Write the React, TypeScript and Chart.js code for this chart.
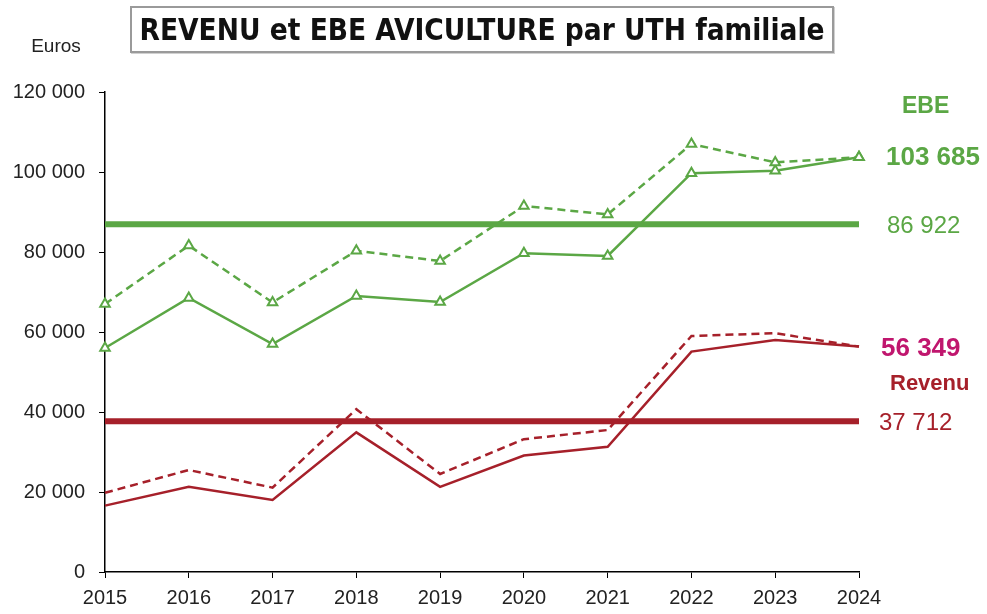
import React, { useEffect, useRef } from "react";
import { Chart, registerables } from "chart.js";

Chart.register(...registerables);

const years = ["2015", "2016", "2017", "2018", "2019", "2020", "2021", "2022", "2023", "2024"];
const ebe = [56000, 68500, 57000, 69000, 67500, 79700, 79000, 99700, 100300, 103685];
const ebeDashed = [67000, 81600, 67400, 80300, 77750, 91500, 89400, 107000, 102400, 103685];
const revenu = [16600, 21300, 18000, 34900, 21300, 29100, 31300, 55100, 58000, 56349];
const revenuDashed = [19800, 25500, 21100, 40700, 24500, 33200, 35500, 59000, 59700, 56349];
const ebeAverage = [86922, 86922, 86922, 86922, 86922, 86922, 86922, 86922, 86922, 86922];
const revenuAverage = [37712, 37712, 37712, 37712, 37712, 37712, 37712, 37712, 37712, 37712];
const yMin = 0;
const yMax = 120000;
const yStep = 20000;

const GREEN = "#5ba745";
const RED = "#a6202a";
const MAGENTA = "#c0166e";
const FONT = "'Liberation Sans', Arial, sans-serif";

const fmt = (v: number) => String(Math.round(v)).replace(/\B(?=(\d{3})+(?!\d))/g, " ");

const labelsPlugin = {
  id: "sideLabels",
  afterDraw(chart: any) {
    const ctx = chart.ctx;
    const y = chart.scales.y;
    const area = chart.chartArea;
    const xr = area.right;
    ctx.save();
    ctx.textBaseline = "middle";
    ctx.textAlign = "left";
    const put = (text: string, x: number, py: number, font: string, color: string) => {
      ctx.font = font;
      ctx.fillStyle = color;
      ctx.fillText(text, x, py);
    };
    put("EBE", xr + 43, area.top + 15, `bold 23px ${FONT}`, GREEN);
    put(fmt(ebe[ebe.length - 1]), xr + 27, y.getPixelForValue(ebe[ebe.length - 1]) + 1, `bold 26px ${FONT}`, GREEN);
    put(fmt(ebeAverage[0]), xr + 28, y.getPixelForValue(ebeAverage[0]) + 2, `24px ${FONT}`, GREEN);
    put(fmt(revenu[revenu.length - 1]), xr + 22, y.getPixelForValue(revenu[revenu.length - 1]) + 2, `bold 26px ${FONT}`, MAGENTA);
    put("Revenu", xr + 31, area.top + 292, `bold 22px ${FONT}`, RED);
    put(fmt(revenuAverage[0]), xr + 20, y.getPixelForValue(revenuAverage[0]) + 2, `24px ${FONT}`, RED);
    ctx.textAlign = "center";
    put("Euros", 56, 47, `19px ${FONT}`, "#222222");
    ctx.restore();
  },
};

export default function App() {
  const ref = useRef<HTMLCanvasElement>(null);
  useEffect(() => {
    if (!ref.current) return;
    const pointStyle = {
      pointStyle: "triangle",
      pointRadius: 5.5,
      pointBorderWidth: 2,
      pointBackgroundColor: "#ffffff",
      pointBorderColor: GREEN,
    };
    const chart = new Chart(ref.current, {
      type: "line",
      data: {
        labels: years,
        datasets: [
          { data: ebeAverage, borderColor: GREEN, borderWidth: 6, pointRadius: 0, clip: false as any },
          { data: revenuAverage, borderColor: RED, borderWidth: 6, pointRadius: 0, clip: false as any },
          { data: ebeDashed, borderColor: GREEN, borderWidth: 2.5, borderDash: [8, 5], ...pointStyle, clip: false as any } as any,
          { data: ebe, borderColor: GREEN, borderWidth: 2.5, ...pointStyle, clip: false as any } as any,
          { data: revenuDashed, borderColor: RED, borderWidth: 2.5, borderDash: [8, 5], pointRadius: 0, clip: false as any },
          { data: revenu, borderColor: RED, borderWidth: 2.5, pointRadius: 0, clip: false as any },
        ],
      },
      options: {
        animation: false,
        responsive: false,
        maintainAspectRatio: false,
        layout: { padding: { top: 92, right: 128, left: 0, bottom: 0 } },
        plugins: { legend: { display: false }, tooltip: { enabled: false }, title: { display: false } },
        scales: {
          x: {
            offset: false,
            afterFit: (s: any) => {
              s.height = 42;
            },
            grid: { display: true, drawOnChartArea: false, drawTicks: true, tickLength: 6, color: "#000000", offset: false },
            border: { display: true, color: "#000000", width: 1.5 },
            ticks: { color: "#222222", font: { family: FONT, size: 20 }, padding: 8, maxRotation: 0, autoSkip: false },
          },
          y: {
            min: yMin,
            max: yMax,
            afterFit: (s: any) => {
              s.width = 105;
            },
            grid: { display: true, drawOnChartArea: false, drawTicks: true, tickLength: 6, color: "#000000" },
            border: { display: true, color: "#000000", width: 1.5 },
            ticks: {
              stepSize: yStep,
              color: "#222222",
              font: { family: FONT, size: 20 },
              padding: 14,
              callback: (v: any) => fmt(Number(v)),
            },
          },
        },
      },
      plugins: [labelsPlugin],
    });
    return () => chart.destroy();
  }, []);

  return (
    <div style={{ position: "absolute", left: 0, top: 0, width: 987, height: 614, background: "#ffffff" }}>
      <canvas ref={ref} width={987} height={614} style={{ position: "absolute", left: 0, top: 0 }} />
      <div
        style={{
          position: "absolute",
          left: 130,
          top: 6,
          width: 700,
          height: 43,
          border: "2px solid #9a9a9a",
          boxShadow: "1px 1px 0 #d0d0d0",
          background: "#ffffff",
          display: "flex",
          alignItems: "center",
          justifyContent: "center",
          fontFamily: "'DejaVu Sans Condensed', 'DejaVu Sans', sans-serif",
          fontStretch: "condensed",
          fontWeight: "bold",
          fontSize: 29.5,
          color: "#111111",
          whiteSpace: "nowrap",
        }}
      >
        REVENU et EBE AVICULTURE par UTH familiale
      </div>
    </div>
  );
}
